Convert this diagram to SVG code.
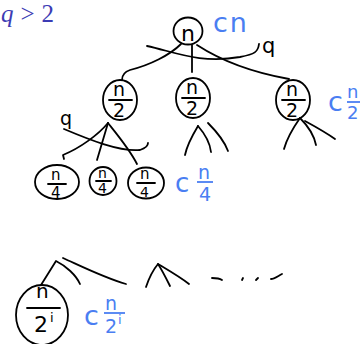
<svg xmlns="http://www.w3.org/2000/svg" width="360" height="344" viewBox="0 0 360 344">
<style>
.s{fill:none;stroke:#000;stroke-width:1.8;stroke-linecap:round;stroke-linejoin:round}
.t{font-family:"DejaVu Sans","Noto Sans",sans-serif;fill:#000}
.b{font-family:"DejaVu Sans","Noto Sans",sans-serif;fill:#4a7ef2}
.m{font-family:"Liberation Serif",serif;font-style:italic;fill:#3c3cb4}
</style>
<rect width="360" height="344" fill="#fff"/>
<text class="m" x="1" y="22" font-size="25">q<tspan font-style="normal" dx="7">&gt;</tspan><tspan font-style="normal" dx="7">2</tspan></text>
<g id="connectors">
<path class="s" d="M181,44 C170,55 150,65 130,70 C124,72 122,76 122,80"/>
<path class="s" d="M192,45 L192,72"/>
<path class="s" d="M197,45 C220,60 250,72 289,79"/>
<path class="s" d="M147,46 C175,52 200,64 240,57 C255,54 258,52 259,44"/>
<path class="s" d="M108,123 C98,135 80,148 63,155 L64,159"/>
<path class="s" d="M108,123 L97,160"/>
<path class="s" d="M108,123 C120,138 130,150 137,164"/>
<path class="s" d="M64,129 C90,140 120,152 140,150 C146,148 148,146 148,143"/>
<path class="s" d="M198,126 C192,136 187,145 185,155"/>
<path class="s" d="M198,126 C205,134 210,143 211,152"/>
<path class="s" d="M208,123 C215,130 224,140 228,151"/>
<path class="s" d="M300,118 C293,128 287,138 284,149"/>
<path class="s" d="M300,118 C308,126 314,135 316,145"/>
<path class="s" d="M305,121 C316,127 328,134 335,139"/>
<path class="s" d="M41,285 L56,261 C66,266 76,275 80,284"/>
<path class="s" d="M63,258 C85,268 105,278 126,284"/>
<path class="s" d="M146,287 C149,278 153,270 158,264 C162,270 166,278 170,286"/>
<path class="s" d="M158,264 C168,270 180,277 189,284"/>
<path class="s" d="M212,278 C216,278 219,278 222,280"/>
<path class="s" d="M242,280 L243,278"/>
<path class="s" d="M256,280 L258,278"/>
<path class="s" d="M271,279 C274,279 278,276 282,274"/>
</g>
<g id="root">
<ellipse class="s" cx="188" cy="31" rx="14.5" ry="13.5"/>
<text class="t" x="181" y="41" font-size="22">n</text>
<text class="b" x="213" y="32" font-size="27" letter-spacing="2">cn</text>
<text class="t" x="262" y="53" font-size="21">q</text>
</g>
<g id="n2a">
<ellipse class="s" cx="120" cy="100" rx="17" ry="20"/>
<text class="t" x="113" y="96" font-size="19">n</text>
<path class="s" d="M109,100 L132,100"/>
<text class="t" x="113" y="117" font-size="19">2</text>
<text class="t" x="60" y="125" font-size="19">q</text>
</g>
<g id="n2b">
<ellipse class="s" cx="193" cy="98" rx="17" ry="20"/>
<text class="t" x="186" y="94" font-size="19">n</text>
<path class="s" d="M182,98 L205,98"/>
<text class="t" x="186" y="115" font-size="19">2</text>
</g>
<g id="n2c">
<ellipse class="s" cx="293" cy="100" rx="17" ry="20"/>
<text class="t" x="286" y="96" font-size="19">n</text>
<path class="s" d="M282,100 L305,100"/>
<text class="t" x="286" y="117" font-size="19">2</text>
<text class="b" x="328" y="111" font-size="27">c</text>
<text class="b" x="347" y="98" font-size="18">n</text>
<path d="M347,102 L360,102" stroke="#4a7ef2" stroke-width="1.8"/>
<text class="b" x="347" y="119" font-size="18">2</text>
</g>
<g id="n4a">
<ellipse class="s" cx="57" cy="182" rx="22" ry="17"/>
<text class="t" x="51" y="180" font-size="15">n</text>
<path class="s" d="M48,184 L66,184"/>
<text class="t" x="51" y="198" font-size="15">4</text>
</g>
<g id="n4b">
<ellipse class="s" cx="103" cy="181" rx="13.5" ry="14"/>
<text class="t" x="98" y="178" font-size="14">n</text>
<path class="s" d="M96,181 L111,181"/>
<text class="t" x="98" y="193" font-size="14">4</text>
</g>
<g id="n4c">
<ellipse class="s" cx="146" cy="183" rx="18" ry="15.5"/>
<text class="t" x="140" y="179" font-size="15">n</text>
<path class="s" d="M137,183 L155,183"/>
<text class="t" x="140" y="197" font-size="14">4</text>
<text class="b" x="175" y="192" font-size="26">c</text>
<text class="b" x="198" y="179" font-size="19">n</text>
<path d="M197,182 L213,182" stroke="#4a7ef2" stroke-width="1.8"/>
<text class="b" x="199" y="201" font-size="19">4</text>
</g>
<g id="n2i">
<ellipse class="s" cx="42" cy="315" rx="26" ry="30"/>
<text class="t" x="36" y="298" font-size="20">n</text>
<path class="s" d="M27,308 L60,308"/>
<text class="t" x="34" y="332" font-size="22">2</text>
<text class="t" x="50" y="322" font-size="13">i</text>
<text class="b" x="84" y="325" font-size="27">c</text>
<text class="b" x="105" y="310" font-size="19">n</text>
<path d="M104,313 L125,313" stroke="#4a7ef2" stroke-width="1.8"/>
<text class="b" x="105" y="333" font-size="19">2</text>
<text class="b" x="118" y="324" font-size="13">i</text>
</g>
</svg>
